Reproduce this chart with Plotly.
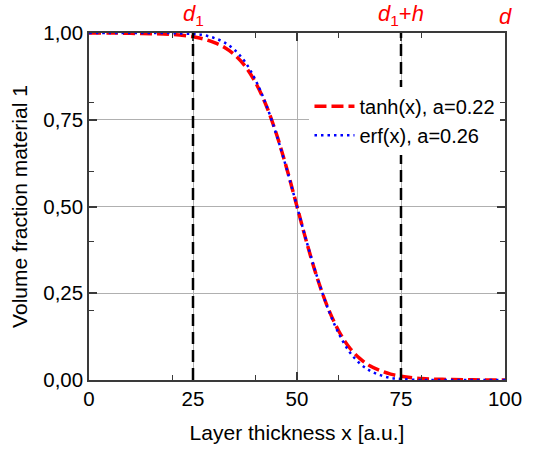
import plotly.graph_objects as go

# Layer positions (a.u.)
x_pos = [0, 5, 10, 15, 20, 25, 27.5, 30, 32.5, 35, 37.5, 40, 42.5, 45, 47.5,
         50, 52.5, 55, 57.5, 60, 62.5, 65, 67.5, 70, 72.5, 75, 80, 85, 90, 95, 100]

# Volume fraction of material 1, tanh-type interface profile
tanh_vals = [1.000, 1.000, 0.999, 0.998, 0.996, 0.989, 0.983, 0.973, 0.959, 0.937,
             0.905, 0.858, 0.794, 0.711, 0.611, 0.500, 0.389, 0.289, 0.206, 0.142,
             0.095, 0.063, 0.041, 0.027, 0.017, 0.011, 0.004, 0.002, 0.001, 0.000, 0.000]

# Volume fraction of material 1, erf-type interface profile
erf_vals = [1.000, 1.000, 1.000, 1.000, 0.9995, 0.997, 0.994, 0.986, 0.973, 0.951,
            0.917, 0.865, 0.796, 0.709, 0.609, 0.500, 0.391, 0.291, 0.204, 0.135,
            0.083, 0.049, 0.027, 0.014, 0.006, 0.003, 0.000, 0.000, 0.000, 0.000, 0.000]

series_names = ["tanh(x), a=0.22", "erf(x), a=0.26"]

x_ticks = [0, 25, 50, 75, 100]
x_ticktext = ["0", "25", "50", "75", "100"]
y_ticks = [0, 0.25, 0.5, 0.75, 1.0]
y_ticktext = ["0,00", "0,25", "0,50", "0,75", "1,00"]

# Layer boundaries marked above the plot
boundary_x = [25, 75]
top_labels_x = [25, 75, 100]
top_labels = ["<i>d</i><sub>1</sub>", "<i>d</i><sub>1</sub>+<i>h</i>", "<i>d</i>"]

FONT = "Liberation Sans, Arial, sans-serif"

fig = go.Figure()

fig.add_trace(go.Scatter(
    x=x_pos, y=tanh_vals, mode="lines", name=series_names[0],
    line=dict(color="#ff0000", width=3.5, dash="12px,5px", shape="spline"),
))
fig.add_trace(go.Scatter(
    x=x_pos, y=erf_vals, mode="lines", name=series_names[1],
    line=dict(color="#0000ff", width=2.5, dash="2.5px,4px", shape="spline"),
))

for bx in boundary_x:
    fig.add_shape(type="line", x0=bx, x1=bx, y0=0, y1=1, xref="x", yref="y",
                  line=dict(color="black", width=2.5, dash="12px,6px"), layer="above")

for tx, tl in zip(top_labels_x, top_labels):
    fig.add_annotation(x=tx, y=1, xref="x", yref="paper", text=tl, showarrow=False,
                       yanchor="bottom", xanchor="center", yshift=2,
                       font=dict(family=FONT, size=22, color="#ff0000"))

axis_common = dict(
    showline=True, linecolor="#3a3a3a", linewidth=1.5, mirror="ticks",
    ticks="inside", ticklen=8, tickwidth=1.5, tickcolor="#3a3a3a",
    showgrid=True, gridcolor="#b0b0b0", gridwidth=1, zeroline=False,
    tickfont=dict(family=FONT, size=20.5, color="black"),
    minor=dict(ticks="inside", ticklen=5, tickwidth=1, tickcolor="#3a3a3a",
               showgrid=False, nticks=2),
)

fig.update_layout(
    width=534, height=455,
    margin=dict(l=89, r=21, t=33, b=75),
    paper_bgcolor="white", plot_bgcolor="white",
    font=dict(family=FONT, size=20, color="black"),
    xaxis=dict(range=[0, 100], tickvals=x_ticks, ticktext=x_ticktext,
               title=dict(text="Layer thickness x [a.u.]", font=dict(size=21), standoff=16),
               **axis_common),
    yaxis=dict(range=[0, 1], tickvals=y_ticks, ticktext=y_ticktext,
               title=dict(text="Volume fraction material 1", font=dict(size=21), standoff=10),
               **axis_common),
    legend=dict(x=0.53, y=0.845, xanchor="left", yanchor="top",
                bgcolor="white", borderwidth=0,
                font=dict(family=FONT, size=20), itemwidth=40, tracegroupgap=0),
    showlegend=True,
)

fig.write_html("out.html")
